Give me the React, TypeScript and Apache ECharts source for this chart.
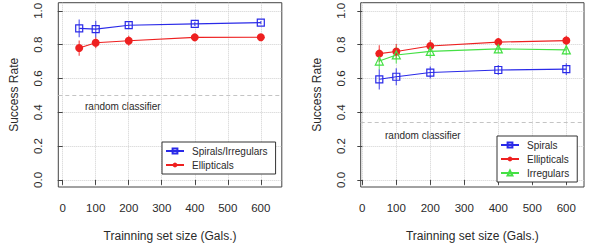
import React, { useEffect, useRef } from "react";
import * as echarts from "echarts";

// ---- data ----
const sizes = [50, 100, 200, 400, 600];
const xTicks = [0, 100, 200, 300, 400, 500, 600];
const yTicks = [0, 0.2, 0.4, 0.6, 0.8, 1.0];

// left panel
const leftSpiIrr = [0.896, 0.892, 0.915, 0.923, 0.93];
const leftSpiIrrErr = [0.052, 0.05, 0.017, 0.012, 0.01];
const leftEll = [0.78, 0.811, 0.823, 0.843, 0.844];
const leftEllErr = [0.045, 0.033, 0.03, 0.015, 0.016];
const leftRandom = 0.5;

// right panel
const rightSpi = [0.595, 0.61, 0.635, 0.65, 0.655];
const rightSpiErr = [0.06, 0.05, 0.035, 0.03, 0.035];
const rightEll = [0.747, 0.759, 0.792, 0.815, 0.824];
const rightEllErr = [0.05, 0.045, 0.035, 0.022, 0.028];
const rightIrr = [0.703, 0.739, 0.76, 0.775, 0.769];
const rightIrrErr = [0.05, 0.05, 0.04, 0.025, 0.03];
const rightRandom = 0.335;

const BLUE = "#2a2ae8";
const RED = "#ee2020";
const GREEN = "#44e044";
const FONT = "Liberation Sans, Arial, Helvetica, sans-serif";
const TXT = "#2a2a2a";

function pts(ys: number[]) {
  return sizes.map((x, i) => [x, ys[i]]);
}
function errs(ys: number[], es: number[]) {
  return sizes.map((x, i) => [x, ys[i] - es[i], ys[i] + es[i]]);
}

function errSeries(ys: number[], es: number[], color: string, idx: number) {
  return {
    type: "custom",
    xAxisIndex: idx,
    yAxisIndex: idx,
    silent: true,
    z: 1,
    data: errs(ys, es),
    renderItem: (params: any, api: any) => {
      const p1 = api.coord([api.value(0), api.value(1)]);
      const p2 = api.coord([api.value(0), api.value(2)]);
      return {
        type: "line",
        shape: { x1: p1[0], y1: p1[1], x2: p2[0], y2: p2[1] },
        style: { stroke: color, lineWidth: 1.3, opacity: 0.7 },
      };
    },
  };
}

function lineSeries(name: string, ys: number[], color: string, symbol: string, size: number, filled: boolean, idx: number, random?: number) {
  const s: any = {
    type: "line",
    name,
    xAxisIndex: idx,
    yAxisIndex: idx,
    data: pts(ys),
    symbol,
    symbolSize: size,
    showAllSymbol: true,
    z: 3,
    lineStyle: { color, width: 1.1 },
    itemStyle: filled
      ? { color, borderColor: color, borderWidth: 0 }
      : { color: "rgba(255,255,255,0)", borderColor: color, borderWidth: 1.2 },
  };
  if (random !== undefined) {
    s.markLine = {
      silent: true,
      symbol: ["none", "none"],
      label: { show: false },
      lineStyle: { type: [4, 3], color: "#c4c4c4", width: 1 },
      data: [{ yAxis: random }],
    };
  }
  return s;
}

function xAxis(idx: number, min: number, max: number) {
  return {
    type: "value",
    gridIndex: idx,
    min,
    max,
    name: "Trainning set size (Gals.)",
    nameLocation: "middle",
    nameGap: 43,
    nameTextStyle: { fontFamily: FONT, fontSize: 12, color: TXT },
    axisLine: { show: false },
    axisTick: { show: true, customValues: xTicks, length: 5, lineStyle: { color: "#444" } },
    axisLabel: { customValues: xTicks, fontFamily: FONT, fontSize: 11.5, color: TXT, margin: 15 },
    splitLine: { show: true, lineStyle: { type: "dotted", color: "#d0d0d0" } },
  };
}

function yAxis(idx: number) {
  return {
    type: "value",
    gridIndex: idx,
    min: -0.042,
    max: 1.048,
    name: "Success Rate",
    nameLocation: "middle",
    nameGap: 38,
    nameTextStyle: { fontFamily: FONT, fontSize: 12, color: TXT },
    axisLine: { show: false },
    axisTick: { show: true, customValues: yTicks, length: 5, lineStyle: { color: "#444" } },
    axisLabel: {
      customValues: yTicks,
      rotate: 90,
      fontFamily: FONT,
      fontSize: 11.5,
      color: TXT,
      margin: 14,
      formatter: (v: number) => v.toFixed(1),
    },
    splitLine: { show: true, lineStyle: { type: "dotted", color: "#d0d0d0" } },
  };
}

function legend(names: string[], left: number, top: number, width: number) {
  return {
    data: names,
    orient: "vertical",
    left,
    top,
    width,
    borderColor: "#333",
    borderWidth: 1,
    padding: [4, 8, 4, 3],
    itemWidth: 18,
    itemHeight: 6,
    itemGap: 4,
    backgroundColor: "#fff",
    textStyle: { fontFamily: FONT, fontSize: 10, color: TXT, padding: [0, 0, 0, 3] },
  };
}

export default function App() {
  const ref = useRef<HTMLDivElement>(null);
  useEffect(() => {
    if (!ref.current) return;
    const chart = echarts.init(ref.current, null, { renderer: "svg" });
    chart.setOption({
      animation: false,
      backgroundColor: "#fff",
      grid: [
        { left: 58.3, top: 1.5, width: 223.5, height: 189.2, show: true, borderColor: "#444", borderWidth: 1, backgroundColor: "transparent" },
        { left: 360.7, top: 1.5, width: 223.3, height: 189.2, show: true, borderColor: "#444", borderWidth: 1, backgroundColor: "transparent" },
      ],
      xAxis: [xAxis(0, -13.3, 663.6), xAxis(1, -4.7, 652)],
      yAxis: [yAxis(0), yAxis(1)],
      legend: [
        legend(["Spirals/Irregulars", "Ellipticals"], 162, 142, 104),
        legend(["Spirals", "Ellipticals", "Irregulars"], 497, 136, 72),
      ],
      graphic: [
        { type: "text", left: 85, top: 101, style: { text: "random classifier", fontFamily: FONT, fontSize: 10, fill: TXT } },
        { type: "text", left: 385, top: 130, style: { text: "random classifier", fontFamily: FONT, fontSize: 10, fill: TXT } },
      ],
      series: [
        errSeries(leftSpiIrr, leftSpiIrrErr, BLUE, 0),
        errSeries(leftEll, leftEllErr, RED, 0),
        lineSeries("Spirals/Irregulars", leftSpiIrr, BLUE, "rect", 7, false, 0, leftRandom),
        lineSeries("Ellipticals", leftEll, RED, "circle", 8, true, 0),
        errSeries(rightSpi, rightSpiErr, BLUE, 1),
        errSeries(rightEll, rightEllErr, RED, 1),
        errSeries(rightIrr, rightIrrErr, GREEN, 1),
        lineSeries("Spirals", rightSpi, BLUE, "rect", 7, false, 1, rightRandom),
        lineSeries("Ellipticals", rightEll, RED, "circle", 8, true, 1),
        lineSeries("Irregulars", rightIrr, GREEN, "triangle", 8, false, 1),
      ],
    });
    return () => chart.dispose();
  }, []);
  return <div ref={ref} style={{ position: "absolute", left: 0, top: 0, width: 600, height: 247 }} />;
}
